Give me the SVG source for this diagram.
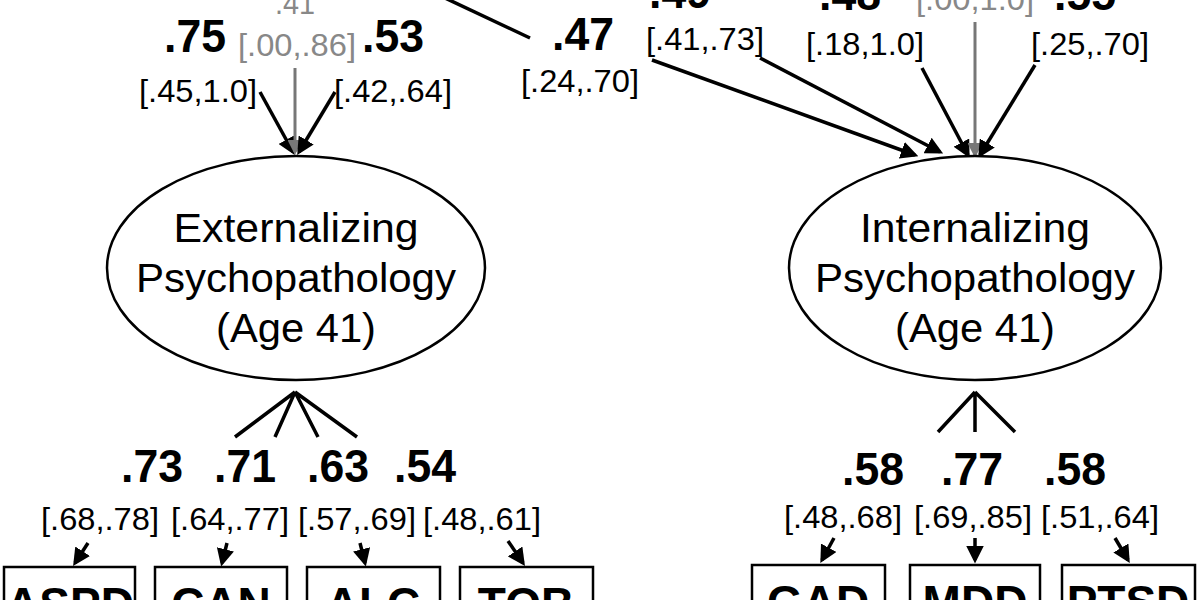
<svg xmlns="http://www.w3.org/2000/svg" width="1200" height="600" viewBox="0 0 1200 600">
<defs>
<marker id="a" viewBox="0 0 10 10" refX="8" refY="5" markerWidth="5" markerHeight="5" orient="auto"><path d="M0,0L10,5L0,10z" fill="#000"/></marker>
<marker id="ag" viewBox="0 0 10 10" refX="8" refY="5" markerWidth="5" markerHeight="5" orient="auto"><path d="M0,0L10,5L0,10z" fill="#777"/></marker>
<style>
text{font-family:"Liberation Sans",Arial,sans-serif;text-anchor:middle}
.b{font-weight:bold;font-size:46px}
.c{font-size:31px}
.g{fill:#888}
.n{font-size:40px}
.l{stroke:#000;stroke-width:3.5;fill:none}
.lg{stroke:#777;stroke-width:3;fill:none}
.box{fill:#fff;stroke:#000;stroke-width:2.5}
</style>
</defs>
<rect width="1200" height="600" fill="#fff"/>
<g id="connectors">
<path class="l" d="M445,-2L530,38"/>
<path class="l" d="M260,92L293,152" marker-end="url(#a)"/>
<path class="lg" d="M295,68V152" marker-end="url(#ag)"/>
<path class="l" d="M335,92L299,152" marker-end="url(#a)"/>
<path class="l" d="M652,60L915,155" marker-end="url(#a)"/>
<path class="l" d="M760,58L940,152" marker-end="url(#a)"/>
<path class="l" d="M922,68L968,155" marker-end="url(#a)"/>
<path class="lg" d="M975,22V155" marker-end="url(#ag)"/>
<path class="l" d="M1035,65L980,155" marker-end="url(#a)"/>
<path class="l" d="M295,392L235,437M295,392L275,437M295,392L318,437M295,392L357,437"/>
<path class="l" d="M975,392L938,432M975,392V432M975,392L1015,432"/>
<path class="l" d="M88,543L75,563" marker-end="url(#a)"/>
<path class="l" d="M227,543L222,563" marker-end="url(#a)"/>
<path class="l" d="M360,543L365,563" marker-end="url(#a)"/>
<path class="l" d="M508,541L523,563" marker-end="url(#a)"/>
<path class="l" d="M834,538L822,560" marker-end="url(#a)"/>
<path class="l" d="M975,538V560" marker-end="url(#a)"/>
<path class="l" d="M1115,538L1128,560" marker-end="url(#a)"/>
</g>
<g id="labels">
<text class="g" x="295" y="14" style="font-size:32px" textLength="40" lengthAdjust="spacingAndGlyphs">.41</text>
<text class="b" x="195" y="52" textLength="62" lengthAdjust="spacingAndGlyphs">.75</text>
<text class="c g" x="297" y="56" textLength="118" lengthAdjust="spacingAndGlyphs">[.00,.86]</text>
<text class="b" x="393" y="52" textLength="62" lengthAdjust="spacingAndGlyphs">.53</text>
<text class="c" x="198" y="102" textLength="118" lengthAdjust="spacingAndGlyphs">[.45,1.0]</text>
<text class="c" x="393" y="102" textLength="118" lengthAdjust="spacingAndGlyphs">[.42,.64]</text>
<text class="b" x="583" y="50" textLength="62" lengthAdjust="spacingAndGlyphs">.47</text>
<text class="c" x="580" y="92" textLength="118" lengthAdjust="spacingAndGlyphs">[.24,.70]</text>
<text class="b" x="680" y="8" textLength="62" lengthAdjust="spacingAndGlyphs">.49</text>
<text class="c" x="705" y="50" textLength="118" lengthAdjust="spacingAndGlyphs">[.41,.73]</text>
<text class="b" x="850" y="10" textLength="62" lengthAdjust="spacingAndGlyphs">.48</text>
<text class="c g" x="975" y="10" textLength="118" lengthAdjust="spacingAndGlyphs">[.00,1.0]</text>
<text class="b" x="1085" y="10" textLength="62" lengthAdjust="spacingAndGlyphs">.55</text>
<text class="c" x="865" y="55" textLength="118" lengthAdjust="spacingAndGlyphs">[.18,1.0]</text>
<text class="c" x="1090" y="55" textLength="118" lengthAdjust="spacingAndGlyphs">[.25,.70]</text>
<text class="b" x="152" y="482" textLength="62" lengthAdjust="spacingAndGlyphs">.73</text>
<text class="b" x="245" y="482" textLength="62" lengthAdjust="spacingAndGlyphs">.71</text>
<text class="b" x="338" y="482" textLength="62" lengthAdjust="spacingAndGlyphs">.63</text>
<text class="b" x="425" y="482" textLength="62" lengthAdjust="spacingAndGlyphs">.54</text>
<text class="c" x="100" y="530" textLength="118" lengthAdjust="spacingAndGlyphs">[.68,.78]</text>
<text class="c" x="230" y="530" textLength="118" lengthAdjust="spacingAndGlyphs">[.64,.77]</text>
<text class="c" x="357" y="530" textLength="118" lengthAdjust="spacingAndGlyphs">[.57,.69]</text>
<text class="c" x="482" y="530" textLength="118" lengthAdjust="spacingAndGlyphs">[.48,.61]</text>
<text class="b" x="873" y="485" textLength="62" lengthAdjust="spacingAndGlyphs">.58</text>
<text class="b" x="972" y="485" textLength="62" lengthAdjust="spacingAndGlyphs">.77</text>
<text class="b" x="1075" y="485" textLength="62" lengthAdjust="spacingAndGlyphs">.58</text>
<text class="c" x="843" y="528" textLength="118" lengthAdjust="spacingAndGlyphs">[.48,.68]</text>
<text class="c" x="973" y="528" textLength="118" lengthAdjust="spacingAndGlyphs">[.69,.85]</text>
<text class="c" x="1100" y="528" textLength="118" lengthAdjust="spacingAndGlyphs">[.51,.64]</text>
</g>
<g id="ext">
<ellipse cx="296" cy="268" rx="189" ry="112" fill="#fff" stroke="#000" stroke-width="2.5"/>
<text class="n" x="296" y="242" textLength="245" lengthAdjust="spacingAndGlyphs">Externalizing</text>
<text class="n" x="296" y="292" textLength="320" lengthAdjust="spacingAndGlyphs">Psychopathology</text>
<text class="n" x="296" y="342" textLength="160" lengthAdjust="spacingAndGlyphs">(Age 41)</text>
</g>
<g id="int">
<ellipse cx="975" cy="268" rx="186" ry="112" fill="#fff" stroke="#000" stroke-width="2.5"/>
<text class="n" x="975" y="242" textLength="230" lengthAdjust="spacingAndGlyphs">Internalizing</text>
<text class="n" x="975" y="292" textLength="320" lengthAdjust="spacingAndGlyphs">Psychopathology</text>
<text class="n" x="975" y="342" textLength="160" lengthAdjust="spacingAndGlyphs">(Age 41)</text>
</g>
<g id="aspd"><rect class="box" x="4" y="567" width="131" height="60"/><text class="b" x="70" y="620">ASPD</text></g>
<g id="can"><rect class="box" x="155" y="567" width="132" height="60"/><text class="b" x="221" y="620">CAN</text></g>
<g id="alc"><rect class="box" x="307" y="567" width="133" height="60"/><text class="b" x="373" y="620">ALC</text></g>
<g id="tob"><rect class="box" x="460" y="567" width="133" height="60"/><text class="b" x="526" y="620">TOB</text></g>
<g id="gad"><rect class="box" x="752" y="565" width="133" height="60"/><text class="b" x="818" y="618">GAD</text></g>
<g id="mdd"><rect class="box" x="910" y="565" width="130" height="60"/><text class="b" x="975" y="618">MDD</text></g>
<g id="ptsd"><rect class="box" x="1062" y="565" width="133" height="60"/><text class="b" x="1128" y="618">PTSD</text></g>
</svg>
